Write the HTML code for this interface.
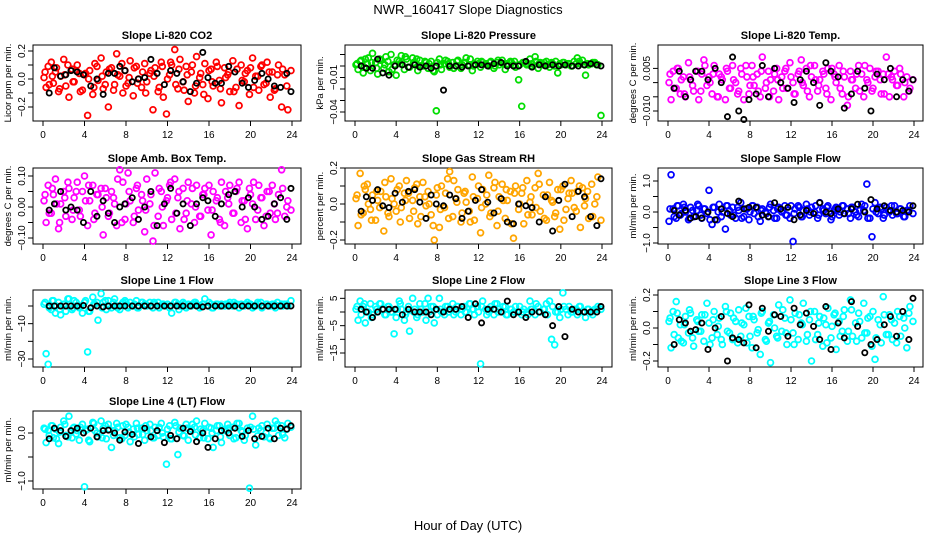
<!DOCTYPE html>
<html><head><meta charset="utf-8"><style>
body{margin:0;background:#fff;}
svg{display:block;font-family:"Liberation Sans",sans-serif;}
</style></head><body>
<svg id="chart" width="936" height="540" viewBox="0 0 936 540" xmlns="http://www.w3.org/2000/svg">
<text x="468" y="14" text-anchor="middle" font-size="13">NWR_160417  Slope Diagnostics</text>
<text x="468" y="530" text-anchor="middle" font-size="13">Hour of Day (UTC)</text>
</svg>
<script>
const hoursColored=[0.1,0.3,0.5,0.8,1.0,1.2,1.5,1.7,2.0,2.2,2.5,2.8,3.0,3.3,3.5,3.8,4.0,4.3,4.5,4.8,5.0,5.3,5.6,5.8,6.1,6.3,6.6,6.9,7.1,7.4,7.7,7.9,8.2,8.4,8.7,9.0,9.2,9.5,9.8,10.0,10.3,10.6,10.8,11.1,11.4,11.6,11.9,12.2,12.4,12.7,13.0,13.2,13.5,13.8,14.0,14.3,14.6,14.8,15.1,15.4,15.6,15.9,16.2,16.4,16.7,17.0,17.2,17.5,17.8,18.0,18.3,18.6,18.9,19.1,19.4,19.7,19.9,20.2,20.5,20.8,21.0,21.3,21.6,21.9,22.1,22.4,22.7,23.0,23.3,23.6,23.9];
const hoursColored2=[0.2,0.6,0.9,1.3,1.6,2.1,2.4,2.9,3.2,3.6,4.1,4.4,4.9,5.2,5.7,6.0,6.4,6.8,7.2,7.6,8.0,8.3,8.8,9.1,9.6,9.9,10.4,10.7,11.2,11.5,12.0,12.3,12.8,13.1,13.6,13.9,14.4,14.7,15.2,15.5,16.0,16.3,16.8,17.1,17.6,17.9,18.4,18.7,19.2,19.5,20.0,20.3,20.7,21.1,21.5,21.8,22.3,22.6,23.1,23.5];
const hoursBlack=[0.6,1.1,1.7,2.2,2.7,3.3,3.9,4.6,5.2,5.8,6.3,6.9,7.4,7.9,8.6,9.2,9.8,10.4,11.0,11.7,12.3,12.9,13.5,14.2,14.8,15.4,15.9,16.6,17.2,17.9,18.5,19.2,19.8,20.4,21.1,21.7,22.3,22.9,23.5,23.9];
const xTicks=[0,4,8,12,16,20,24];

const co2Vals=[0.01,-0.06,0.09,0.12,-0.03,0.05,-0.09,0.02,0.14,-0.05,-0.13,0.07,-0.02,0.10,0.04,-0.08,0.03,-0.26,0.06,-0.11,0.11,-0.01,0.15,-0.07,0.05,-0.20,0.08,-0.04,0.18,0.02,-0.10,0.06,-0.03,0.13,-0.12,0.09,0.00,-0.06,0.11,-0.02,0.04,-0.22,0.08,-0.09,0.12,-0.13,-0.25,0.03,0.10,0.21,-0.07,0.14,-0.02,0.09,-0.16,0.05,-0.10,0.16,0.01,-0.04,0.11,-0.14,0.07,-0.05,0.12,-0.01,-0.17,0.08,0.03,-0.09,0.13,-0.06,-0.19,0.10,-0.02,0.06,-0.11,0.15,0.02,-0.08,0.09,-0.04,0.12,-0.13,0.05,-0.07,0.10,-0.20,0.03,-0.22,0.06];
const co2Vals2=[0.05,-0.04,0.02,0.08,-0.07,0.03,0.10,-0.02,0.06,-0.09,0.04,0.00,-0.06,0.09,0.02,-0.04,0.07,-0.08,0.03,0.11,-0.05,0.01,0.08,-0.03,0.05,-0.10,0.06,0.02,-0.06,0.09,0.00,0.12,-0.04,0.07,-0.08,0.03,0.10,-0.05,0.04,-0.11,0.06,-0.02,0.09,-0.07,0.01,0.05,-0.09,0.07,-0.01,0.04,0.08,-0.06,0.02,0.10,-0.03,0.05,-0.08,0.03,0.07,-0.05];
const co2Black=[-0.10,0.08,0.02,0.03,0.06,0.05,0.03,-0.05,0.00,-0.11,0.04,0.04,0.09,0.06,-0.02,0.00,0.01,0.14,0.04,-0.04,0.06,0.04,-0.02,-0.09,-0.03,0.19,0.01,-0.03,-0.03,0.09,0.05,-0.03,-0.06,-0.01,0.04,0.00,-0.05,-0.06,0.04,-0.09];
const presVals=[0.001,-0.003,0.004,-0.006,0.006,0.002,-0.004,0.011,0.003,-0.007,0.005,-0.002,0.008,-0.005,0.010,0.001,-0.008,0.004,0.009,-0.003,0.006,-0.001,0.007,0.002,-0.004,0.005,0.000,0.003,-0.002,0.004,-0.005,-0.039,0.006,-0.003,0.002,0.004,-0.001,0.003,0.000,0.005,-0.002,0.003,0.007,0.001,-0.004,0.002,0.004,-0.001,0.003,0.002,0.000,0.004,-0.002,0.003,0.001,0.005,-0.003,0.002,0.004,0.001,-0.001,-0.012,-0.035,0.003,0.001,0.006,0.002,0.008,-0.002,0.003,0.001,0.004,-0.001,0.003,0.000,-0.006,0.002,0.003,0.001,0.002,0.000,0.004,0.007,0.002,0.005,-0.008,0.001,0.002,0.003,0.001,-0.043];
const presVals2=[0.002,0.005,-0.001,0.007,0.003,-0.002,0.006,0.001,0.004,-0.003,0.005,0.002,0.008,-0.001,0.003,0.006,0.000,0.004,0.002,-0.004,0.003,0.001,0.005,0.002,-0.002,0.004,0.001,0.003,0.006,0.000,0.002,0.004,0.001,0.003,0.000,0.005,0.002,0.001,0.003,0.004,0.001,0.003,0.002,0.000,0.004,0.002,0.003,0.001,0.002,0.004,0.001,0.003,0.002,0.000,0.002,0.004,0.001,0.002,0.003,0.001];
const presBlack=[0.000,-0.002,-0.002,0.006,-0.006,-0.008,0.000,0.001,-0.001,0.001,-0.001,0.000,-0.002,0.000,-0.021,0.000,0.000,-0.001,0.000,0.001,0.001,0.000,0.002,0.003,0.000,0.000,0.000,0.004,-0.001,0.001,0.000,0.001,0.000,0.001,0.000,0.000,0.001,0.002,0.001,0.000];
const tempVals=[0.000,-0.006,0.004,-0.002,0.005,-0.004,0.002,-0.005,0.007,0.001,-0.003,0.004,-0.006,0.003,0.008,-0.001,0.002,-0.004,0.006,-0.005,0.003,0.001,-0.006,0.004,-0.002,0.006,0.000,-0.003,0.005,-0.006,0.002,-0.004,0.006,-0.001,0.003,-0.005,0.009,-0.002,0.004,0.001,-0.003,0.005,-0.006,0.002,0.004,-0.002,0.007,0.000,-0.004,0.003,0.008,-0.001,0.005,-0.005,0.002,0.006,-0.003,0.001,0.004,-0.002,0.005,-0.006,0.003,0.000,0.006,-0.004,0.002,-0.008,0.004,0.001,-0.002,0.006,0.003,-0.005,0.001,0.005,-0.003,0.002,0.004,-0.004,0.003,0.009,-0.005,0.001,0.004,-0.001,0.003,-0.005,0.002,-0.002,0.001];
const tempVals2=[0.003,-0.002,0.005,0.001,-0.004,0.002,-0.001,0.004,-0.003,0.006,0.000,0.003,-0.005,0.002,0.005,-0.002,0.001,-0.004,0.003,0.006,-0.001,0.002,-0.003,0.004,0.000,-0.005,0.003,0.001,-0.002,0.005,0.002,-0.004,0.004,0.000,-0.003,0.006,0.001,-0.001,0.003,-0.004,0.005,0.002,-0.002,0.004,-0.005,0.001,0.003,-0.003,0.006,0.000,-0.002,0.004,0.001,-0.004,0.003,0.002,-0.001,0.005,0.000,-0.003];
const tempBlack=[-0.002,0.004,-0.005,0.001,0.004,0.004,0.001,0.005,0.000,-0.012,0.009,-0.010,-0.013,-0.006,-0.004,0.006,-0.005,0.005,0.000,-0.002,-0.007,0.001,0.004,0.000,-0.008,0.007,0.004,0.002,-0.009,-0.004,0.004,-0.002,-0.010,0.003,0.001,0.005,-0.005,0.001,-0.003,0.001];
const ambVals=[0.02,-0.05,0.07,-0.02,0.04,0.09,-0.07,0.01,0.05,-0.03,0.06,-0.04,0.03,0.08,-0.01,0.05,0.10,-0.06,0.02,0.07,-0.02,0.04,0.06,-0.09,0.03,-0.03,0.05,0.01,-0.06,0.12,0.08,-0.04,0.11,0.02,-0.05,0.06,-0.01,0.04,-0.08,0.09,0.01,-0.11,0.11,-0.03,0.05,-0.06,0.02,0.07,-0.04,0.09,0.03,-0.07,0.06,-0.02,0.08,0.01,-0.05,0.07,-0.03,0.04,0.06,-0.01,-0.09,0.05,0.02,-0.04,0.08,-0.06,0.03,0.07,-0.02,0.05,0.08,-0.05,0.02,-0.07,0.06,0.01,-0.04,0.07,0.03,-0.06,0.05,-0.02,0.07,-0.04,0.04,0.12,-0.03,0.02,-0.01];
const ambVals2=[0.04,-0.02,0.06,0.01,-0.05,0.03,0.08,-0.01,0.05,-0.03,0.02,0.07,-0.04,0.04,0.00,0.06,-0.02,0.03,0.09,-0.05,0.01,0.05,-0.03,0.07,0.02,-0.01,0.04,-0.06,0.06,0.00,0.03,0.08,-0.02,0.05,-0.04,0.02,0.06,0.00,-0.03,0.04,0.07,-0.01,0.03,-0.05,0.05,0.01,-0.02,0.06,0.02,-0.04,0.04,0.08,-0.01,0.03,-0.03,0.05,0.01,-0.02,0.06,0.00];
const ambBlack=[-0.01,0.01,0.05,-0.01,0.00,-0.01,-0.05,0.05,-0.03,0.02,-0.02,-0.05,0.00,0.01,0.03,-0.04,0.00,0.05,-0.06,0.01,0.06,-0.02,0.01,-0.06,0.01,0.03,0.02,-0.03,0.01,0.04,0.05,0.00,0.03,0.00,-0.04,-0.03,0.01,0.03,-0.04,0.06];
const rhVals=[0.03,-0.12,0.17,-0.05,0.08,0.11,-0.03,0.05,-0.09,0.02,0.07,-0.15,0.04,-0.07,0.14,0.00,-0.04,0.10,-0.02,0.06,0.13,-0.08,0.02,0.09,-0.11,0.04,0.12,-0.01,0.07,-0.06,-0.20,0.05,-0.13,0.10,-0.02,0.14,0.18,-0.07,0.03,0.08,-0.10,0.06,0.01,-0.04,0.15,-0.09,0.03,-0.16,0.08,0.00,0.16,-0.05,0.09,-0.12,0.04,0.11,-0.08,0.02,0.07,-0.19,0.10,-0.03,0.06,-0.11,0.13,0.01,-0.06,0.09,0.17,-0.04,0.05,-0.09,0.12,0.02,-0.07,0.08,-0.14,0.10,-0.03,0.06,0.13,-0.02,0.07,-0.13,0.09,0.03,-0.08,0.11,0.00,0.15,-0.09];
const rhVals2=[0.05,-0.06,0.10,0.00,-0.09,0.07,-0.02,0.12,-0.05,0.03,0.08,-0.10,0.02,0.06,-0.04,0.11,-0.07,0.04,0.00,-0.12,0.09,-0.03,0.06,-0.08,0.13,0.01,-0.05,0.07,-0.10,0.04,0.10,-0.02,0.05,-0.07,0.12,-0.04,0.02,0.08,-0.11,0.06,0.00,0.09,-0.06,0.04,-0.02,0.11,-0.08,0.05,0.01,-0.05,0.08,-0.09,0.03,0.06,-0.04,0.10,-0.01,0.07,-0.07,0.04];
const rhBlack=[-0.04,0.04,0.02,0.08,-0.01,-0.02,0.06,0.01,0.07,0.08,0.01,-0.08,0.05,0.00,-0.01,0.05,0.03,-0.08,-0.04,0.02,0.08,0.01,-0.05,0.03,-0.10,-0.11,0.00,-0.01,-0.02,-0.10,0.04,-0.15,0.02,0.11,-0.07,0.07,0.04,-0.07,-0.12,0.14];
const sampleVals=[-0.30,1.20,0.10,-0.20,0.20,-0.10,0.25,0.00,-0.25,0.15,-0.15,0.05,0.20,-0.20,0.10,-0.05,0.70,-0.40,0.15,-0.25,0.25,0.00,-0.55,0.20,-0.10,0.15,-0.20,0.05,0.30,-0.15,0.10,-0.25,0.20,-0.05,0.15,-0.30,0.10,0.00,-0.15,0.25,0.05,-0.20,0.15,0.00,0.20,-0.10,-0.20,-0.95,0.10,0.20,-0.15,0.05,0.25,-0.10,0.15,0.00,-0.20,0.30,0.10,-0.05,0.20,-0.25,0.05,0.15,-0.10,0.20,-0.05,0.10,-0.20,0.15,0.00,-0.15,0.25,0.05,0.90,-0.20,-0.80,0.30,-0.05,0.10,-0.20,0.15,0.00,-0.10,0.20,-0.05,0.10,-0.15,0.05,0.20,-0.05];
const sampleVals2=[0.10,-0.15,0.20,-0.05,0.15,-0.20,0.05,0.25,-0.10,0.10,-0.25,0.15,0.00,-0.15,0.20,0.05,-0.10,0.15,-0.20,0.10,0.00,0.20,-0.15,0.05,-0.05,0.15,-0.20,0.10,0.05,-0.10,0.20,-0.05,0.15,-0.15,0.10,0.00,0.20,-0.10,0.05,0.15,-0.15,0.10,0.00,0.20,-0.05,0.15,-0.10,0.05,0.20,-0.20,0.10,0.00,0.15,-0.10,0.05,0.20,-0.05,0.10,-0.15,0.05];
const sampleBlack=[0.05,-0.10,0.05,-0.20,-0.15,-0.20,0.00,-0.25,0.10,-0.05,-0.15,0.35,0.10,0.15,0.15,-0.10,-0.15,0.30,0.10,0.15,-0.25,-0.10,0.05,-0.05,0.30,0.00,-0.05,0.10,-0.05,0.10,0.25,0.00,0.40,0.10,0.20,0.05,0.00,0.05,0.00,0.20];
const line1Vals=[1,-27,-33,-2,3,-4,2,-5,1,-3,4,-2,3,0,-1,-4,2,-26,-3,5,1,-8,7,2,-2,3,-1,4,0,-2,2,3,-1,2,0,3,-1,2,1,0,2,-1,1,2,0,1,0,-1,-4,2,1,0,2,-1,1,0,2,1,-1,1,4,0,1,-1,1,0,1,0,1,2,0,1,-1,1,0,2,1,-1,0,1,2,0,1,0,1,-1,0,1,1,0,3];
const line1Vals2=[2,-1,3,0,-2,1,4,-1,2,0,3,-3,1,2,-1,3,0,2,-1,1,2,0,1,-1,2,1,0,2,-1,1,1,0,2,-2,1,0,1,2,0,1,2,-1,1,0,1,0,2,1,0,1,1,0,2,-1,1,0,1,2,0,1];
const line1Black=[0,0,0,0,0,0,0.3,-1,0,-0.5,0,0,0,0,0,0,0,0,0,0,0,0,0,0,0,-0.5,0,0,0,0,0,0,0,0,0,0,0,0,0,0];
const line2Vals=[1,-3,4,2,-4,0,3,-1,2,0,3,1,-1,2,0,-8,-2,4,1,-3,0,-7,5,1,-1,3,0,-3,5,2,-4,1,5,0,-1,2,1,3,0,2,-1,2,0,3,1,-1,2,-19,4,1,0,2,-1,3,1,0,2,-1,1,0,2,0,-1,1,0,4,1,-1,2,0,1,3,4,-10,-12,0,-2,7,1,2,0,1,-1,2,0,-2,1,0,1,2,1];
const line2Vals2=[2,-1,3,0,-2,1,3,-1,2,0,1,3,-1,2,0,-2,1,3,0,2,-1,1,2,0,-1,2,1,0,3,1,0,2,-1,1,3,0,2,-1,1,0,2,0,-1,1,3,0,1,-1,2,0,1,2,-1,0,1,2,0,1,-1,1];
const line2Black=[1,0,-2,0,1,1,1,-1,1,0,0,0,-1,1,0,1,1,2,-2,3,-4,1,1,0,4,-1,0,-2,0,0,-1,-5,2,-9,1,0,0,0,0,2];
const line3Vals=[0.04,-0.12,0.10,0.16,-0.06,0.02,-0.09,0.07,-0.03,0.09,-0.11,0.05,-0.02,0.08,-0.08,0.15,0.03,-0.06,0.10,-0.04,0.06,-0.10,0.13,-0.02,0.09,-0.07,0.04,0.11,-0.05,0.02,-0.09,0.07,-0.12,0.05,-0.03,-0.16,0.10,-0.07,0.03,-0.21,0.08,-0.05,0.14,-0.02,0.06,-0.10,0.17,-0.03,0.09,-0.07,0.03,0.15,-0.08,0.05,-0.20,0.10,-0.04,0.07,-0.11,0.02,0.12,-0.06,0.08,-0.13,0.04,-0.02,0.11,-0.08,0.17,-0.05,0.03,0.09,-0.06,0.15,-0.03,0.07,-0.11,-0.19,0.05,-0.09,0.19,-0.04,0.08,-0.07,0.03,0.10,-0.05,0.06,-0.12,0.13,0.04];
const line3Vals2=[0.06,-0.04,0.09,-0.08,0.02,0.11,-0.06,0.04,-0.02,0.08,-0.10,0.05,0.01,-0.07,0.10,-0.03,0.06,-0.09,0.03,0.12,-0.05,0.07,-0.01,0.09,-0.08,0.04,0.00,-0.06,0.11,-0.03,0.05,-0.10,0.08,0.02,-0.04,0.10,-0.07,0.03,0.06,-0.09,0.01,0.09,-0.05,0.07,-0.02,0.11,-0.08,0.04,-0.03,0.06,0.10,-0.06,0.02,0.08,-0.04,0.05,-0.09,0.07,0.00,0.09];
const line3Black=[-0.10,0.05,0.03,-0.02,-0.01,0.03,-0.13,0.00,0.07,-0.20,-0.06,-0.07,-0.09,0.14,-0.12,0.12,-0.02,0.08,0.07,-0.05,0.12,0.02,0.09,0.01,-0.07,0.13,-0.13,0.03,-0.06,0.16,0.01,-0.15,-0.10,-0.07,0.02,0.07,-0.05,0.10,-0.07,0.18];
const line4Vals=[0.10,-0.20,0.05,0.15,-0.10,0.08,-0.22,0.12,0.25,-0.05,0.35,-0.10,0.12,0.05,-0.15,0.18,-1.12,0.08,-0.18,0.22,0.05,-0.08,0.25,0.10,-0.12,0.18,-0.30,0.05,0.20,-0.10,0.15,-0.05,0.12,-0.18,0.08,0.20,-0.03,0.10,-0.15,0.05,0.18,-0.10,0.12,-0.05,0.20,-0.08,-0.65,0.15,-0.12,0.22,-0.45,0.10,-0.05,0.18,-0.15,0.08,0.12,0.25,-0.10,0.05,0.20,-0.12,0.10,-0.30,0.05,0.15,-0.20,0.08,0.18,-0.05,0.12,-0.10,0.20,0.05,-0.15,0.10,-1.15,0.35,-0.25,0.10,0.05,-0.08,0.18,-0.12,0.10,0.25,-0.05,0.15,-0.10,0.20,0.12];
const line4Vals2=[0.08,-0.05,0.15,-0.12,0.02,0.18,-0.08,0.10,-0.02,0.12,0.05,-0.15,0.20,0.00,-0.10,0.15,0.08,-0.05,0.12,-0.12,0.18,0.02,-0.08,0.10,-0.03,0.15,0.05,-0.10,0.12,0.00,0.08,-0.12,0.15,0.02,-0.06,0.10,0.18,-0.04,0.08,-0.10,0.12,0.00,0.15,-0.08,0.05,0.10,-0.12,0.20,0.02,-0.05,0.12,0.08,-0.06,0.15,0.00,-0.10,0.10,0.18,-0.03,0.08];
const line4Black=[-0.12,0.10,0.05,-0.07,0.05,0.10,0.00,0.10,-0.08,0.05,0.06,0.00,-0.15,0.02,-0.03,-0.22,0.10,-0.08,0.05,-0.20,-0.05,-0.12,0.10,0.03,-0.18,0.00,-0.30,-0.12,0.05,0.00,0.10,-0.07,0.05,-0.12,-0.07,0.10,-0.12,0.10,0.08,0.15];

const NS="http://www.w3.org/2000/svg";
const svg=document.getElementById('chart');
const cols=[{l:33,r:301,x0:43,x24:292},{l:345,r:612,x0:355,x24:602},{l:658,r:923,x0:668,x24:914}];
const rows=[{t:45,b:121},{t:168,b:244},{t:290,b:367},{t:411,b:489}];
const panels=[
 {name:'co2',title:'Slope Li-820 CO2',ylab:'Licor ppm per min.',c:0,r:0,col:'#ff0000',v:co2Vals,v2:co2Vals2,k:co2Black,va:0,ya:79,vb:0.2,yb:51,ticks:[-0.2,-0.1,0,0.1,0.2],labs:{'-0.2':'-0.2','0':'0.0','0.2':'0.2'}},
 {name:'pressure',title:'Slope Li-820 Pressure',ylab:'kPa per min.',c:1,r:0,col:'#00dd00',v:presVals,v2:presVals2,k:presBlack,va:0,ya:66,vb:-0.04,yb:112,ticks:[0.01,0,-0.01,-0.02,-0.03,-0.04],labs:{'-0.01':'-0.01','-0.04':'-0.04'}},
 {name:'li820-temp',title:'Slope Li-820 Temp.',ylab:'degrees C per min.',c:2,r:0,col:'#ff00ff',v:tempVals,v2:tempVals2,k:tempBlack,va:0,ya:82.6,vb:-0.01,yb:111,ticks:[0.005,0,-0.005,-0.01],labs:{'0.005':'0.005','-0.01':'-0.010'}},
 {name:'amb-box-temp',title:'Slope Amb. Box Temp.',ylab:'degrees C per min.',c:0,r:1,col:'#ff00ff',v:ambVals,v2:ambVals2,k:ambBlack,va:0,ya:207,vb:0.1,yb:176,ticks:[-0.1,-0.05,0,0.05,0.1],labs:{'-0.1':'-0.10','0':'0.00','0.1':'0.10'}},
 {name:'gas-stream-rh',title:'Slope Gas Stream RH',ylab:'percent per min.',c:1,r:1,col:'#ffa500',v:rhVals,v2:rhVals2,k:rhBlack,va:0,ya:204,vb:0.2,yb:168,ticks:[-0.2,-0.1,0,0.1,0.2],labs:{'-0.2':'-0.2','0':'0.0','0.2':'0.2'}},
 {name:'sample-flow',title:'Slope Sample Flow',ylab:'ml/min per min.',c:2,r:1,col:'#0000ff',v:sampleVals,v2:sampleVals2,k:sampleBlack,va:0,ya:212,vb:1,yb:181,ticks:[-1,-0.5,0,0.5,1],labs:{'-1':'-1.0','0':'0.0','1':'1.0'}},
 {name:'line1-flow',title:'Slope Line 1 Flow',ylab:'ml/min per min.',c:0,r:2,col:'#00ffff',v:line1Vals,v2:line1Vals2,k:line1Black,va:0,ya:306,vb:-30,yb:359,ticks:[0,-10,-20,-30],labs:{'-10':'-10','-30':'-30'}},
 {name:'line2-flow',title:'Slope Line 2 Flow',ylab:'ml/min per min.',c:1,r:2,col:'#00ffff',v:line2Vals,v2:line2Vals2,k:line2Black,va:0,ya:312,vb:-15,yb:353,ticks:[5,0,-5,-10,-15],labs:{'5':'5','-5':'-5','-15':'-15'}},
 {name:'line3-flow',title:'Slope Line 3 Flow',ylab:'ml/min per min.',c:2,r:2,col:'#00ffff',v:line3Vals,v2:line3Vals2,k:line3Black,va:0,ya:328,vb:0.2,yb:295,ticks:[-0.2,-0.1,0,0.1,0.2],labs:{'-0.2':'-0.2','0':'0.0','0.2':'0.2'}},
 {name:'line4-flow',title:'Slope Line 4 (LT) Flow',ylab:'ml/min per min.',c:0,r:3,col:'#00ffff',v:line4Vals,v2:line4Vals2,k:line4Black,va:0,ya:433,vb:-1,yb:481,ticks:[0,-0.5,-1],labs:{'0':'0.0','-1':'-1.0'}}
];
function mk(tag,attrs,parent){const e=document.createElementNS(NS,tag);for(const a in attrs)e.setAttribute(a,attrs[a]);(parent||svg).appendChild(e);return e;}
panels.forEach(p=>{
 const C=cols[p.c],R=rows[p.r];
 const g=mk('g',{});
 
 
 const xs=h=>C.x0+(C.x24-C.x0)*h/24;
 const ys=v=>p.ya+(p.yb-p.ya)*(v-p.va)/(p.vb-p.va);
 const t=mk('text',{x:(C.l+C.r)/2,y:R.t-6,'text-anchor':'middle','font-size':'11','font-weight':'bold'},g);
 t.textContent=p.title;
 
 
 const bx=mk('rect',{x:C.l,y:R.t,width:C.r-C.l,height:R.b-R.t,fill:'none',stroke:'#000','stroke-width':1},g);
 
 
 xTicks.forEach(h=>{
  mk('line',{x1:xs(h),x2:xs(h),y1:R.b,y2:R.b+5,stroke:'#000'},g);
  const tl=mk('text',{x:xs(h),y:R.b+17,'text-anchor':'middle','font-size':'10'},g);
  tl.textContent=h;
  
  
 });
 p.ticks.forEach(v=>{
  const y=ys(v);
  mk('line',{x1:C.l-5,x2:C.l,y1:y,y2:y,stroke:'#000'},g);
  const lab=p.labs[String(v)];
  if(lab){
   const tl=mk('text',{x:C.l-8,y:y,'text-anchor':'middle','font-size':'10',transform:`rotate(-90 ${C.l-8} ${y})`},g);
   tl.textContent=lab.replace('-','\u2212');
   
   
  }
 });
 const yl=mk('text',{x:C.l-22,y:(R.t+R.b)/2,'text-anchor':'middle','font-size':'9.5',transform:`rotate(-90 ${C.l-22} ${(R.t+R.b)/2})`},g);
 yl.textContent=p.ylab;
 
 
 const n=Math.min(p.v.length,hoursColored.length);
 for(let i=0;i<n;i++){
  const c=mk('circle',{cx:xs(hoursColored[i]),cy:ys(p.v[i]),r:2.9,fill:'none',stroke:p.col,'stroke-width':1.8},g);
  
  
 }
 const n2=Math.min(p.v2.length,hoursColored2.length);
 for(let i=0;i<n2;i++){
  const c=mk('circle',{cx:xs(hoursColored2[i]),cy:ys(p.v2[i]),r:2.9,fill:'none',stroke:p.col,'stroke-width':1.8},g);
  
  
 }
 const m=Math.min(p.k.length,hoursBlack.length);
 for(let i=0;i<m;i++){
  const c=mk('circle',{cx:xs(hoursBlack[i]),cy:ys(p.k[i]),r:2.6,fill:'none',stroke:'#000','stroke-width':1.8},g);
  
  
 }
});
</script>
</body></html>
